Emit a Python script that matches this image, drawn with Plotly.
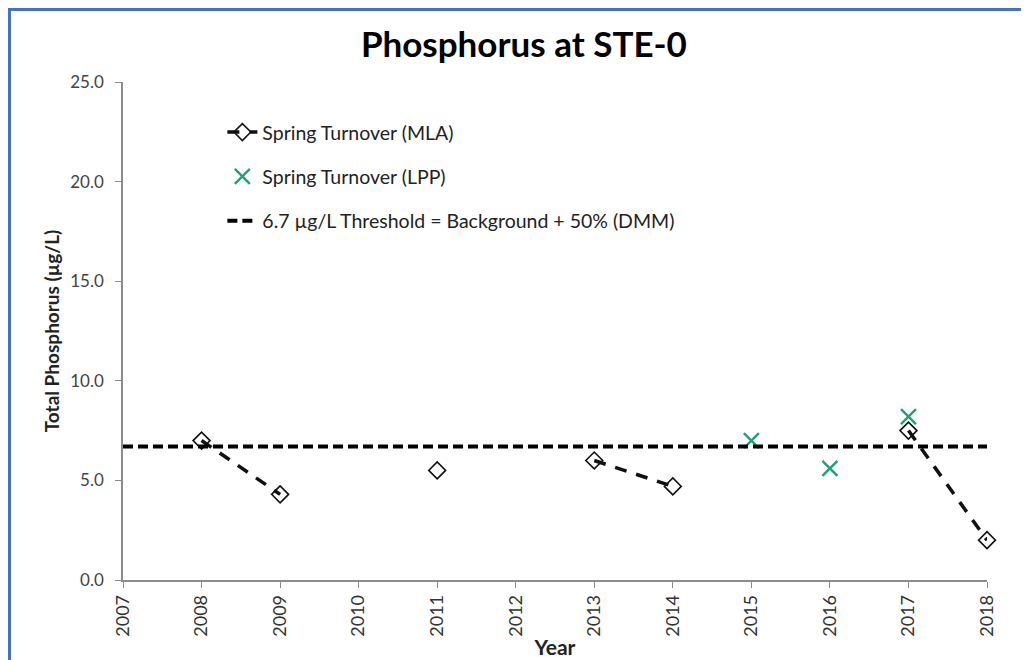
import plotly.graph_objects as go

years = [2008, 2009, 2010, 2011, 2012, 2013, 2014, 2015, 2016, 2017, 2018]
mla = [7.0, 4.3, None, 5.5, None, 6.0, 4.7, None, None, 7.5, 2.0]
lpp_years = [2015, 2016, 2017]
lpp = [7.0, 5.6, 8.2]
threshold_x = [2007, 2018]
threshold = 6.7
tick_years = list(range(2007, 2019))
y_ticks = [0, 5, 10, 15, 20, 25]

FONT = "Lato, 'Open Sans', sans-serif"

fig = go.Figure()
fig.add_trace(go.Scatter(
    x=years, y=mla, mode="lines+markers", name="Spring Turnover (MLA)",
    connectgaps=False, legendgroup="a", cliponaxis=False,
    line=dict(color="#111111", width=3.5, dash="12px,10px"),
    marker=dict(symbol="diamond-open", size=13, color="#111111", line=dict(width=1.6)),
))
fig.add_trace(go.Scatter(
    x=lpp_years, y=lpp, mode="markers", name="Spring Turnover (LPP)",
    legendgroup="b", cliponaxis=False,
    marker=dict(symbol="x-thin-open", size=15, color="#22A078", line=dict(width=2.4, color="#22A078")),
))
fig.add_trace(go.Scatter(
    x=threshold_x, y=[threshold] * len(threshold_x), mode="lines",
    name="6.7 µg/L Threshold = Background + 50% (DMM)", legendgroup="c",
    line=dict(color="#000000", width=4, dash="10px,5px"),
))

fig.update_layout(
    width=1029, height=660,
    margin=dict(l=115, r=50, t=74, b=88),
    paper_bgcolor="white", plot_bgcolor="white",
    font=dict(family=FONT, color="#404040", size=17),
    title=dict(text="<b>Phosphorus at STE-0</b>", x=0.464, xanchor="center",
               xref="paper", y=0.944, yanchor="middle",
               font=dict(family=FONT, size=35, color="#000000")),
    showlegend=True,
    legend=dict(x=0.115, y=0.938, xanchor="left", yanchor="top",
                bgcolor="rgba(0,0,0,0)", traceorder="grouped", tracegroupgap=16,
                font=dict(family=FONT, size=19.5, color="#222222")),
    xaxis=dict(range=[2007, 2018], tickvals=tick_years,
               ticktext=[str(t) for t in tick_years], tickangle=-90,
               showgrid=False, zeroline=False, showline=True, linecolor="#8c8c8c",
               linewidth=1.5, ticks="outside", ticklen=6, tickcolor="#8c8c8c",
               tickfont=dict(family=FONT, size=18, color="#333333"),
               title=dict(text="<b>Year</b>", standoff=5,
                          font=dict(family=FONT, size=21, color="#222222"))),
    yaxis=dict(range=[0, 25], tickvals=y_ticks,
               ticktext=[f"{v:.1f}" for v in y_ticks],
               showgrid=False, zeroline=False, showline=True, linecolor="#8c8c8c",
               linewidth=1.5, ticks="outside", ticklen=6, tickcolor="#8c8c8c",
               ticklabelstandoff=8,
               tickfont=dict(family=FONT, size=17, color="#444444"),
               title=dict(text="<b>Total Phosphorus (µg/L)</b>", standoff=6,
                          font=dict(family=FONT, size=19, color="#222222"))),
)

fig.add_shape(type="rect", xref="paper", yref="paper",
              x0=-0.1314, x1=1.1, y0=-0.25, y1=1.1456,
              line=dict(color="#4472C4", width=3), layer="below")

fig.write_html("out.html")
